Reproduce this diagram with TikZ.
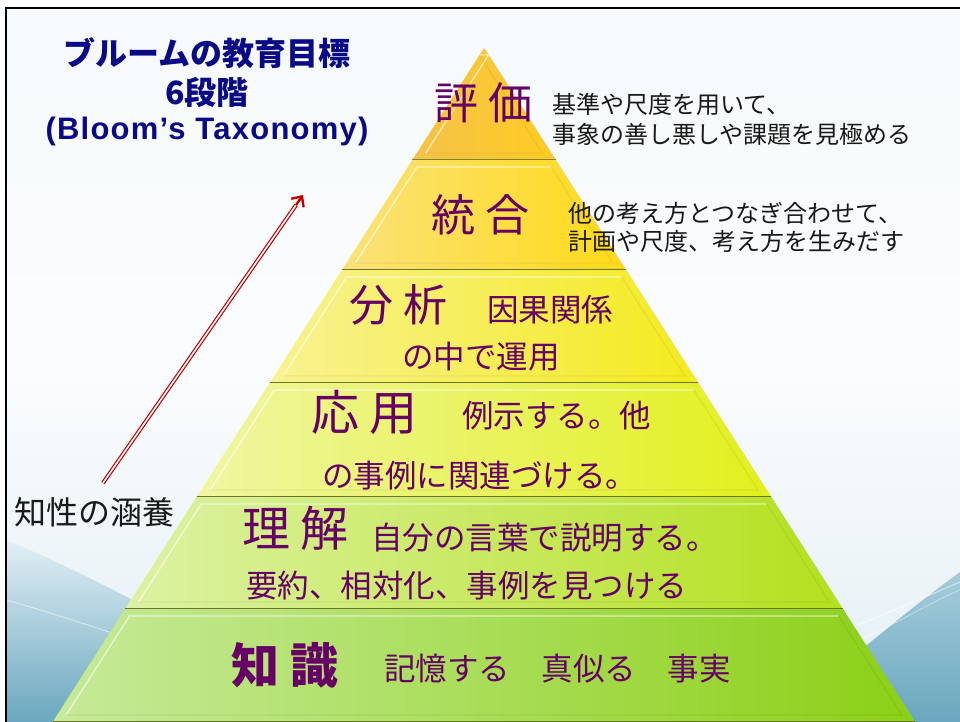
\documentclass[tikz,border=0pt]{standalone}
\usepackage{fontspec}
\newfontfamily\jp{Noto Sans CJK JP}
\newfontfamily\lat{Liberation Sans}[LetterSpace=4]
\usetikzlibrary{arrows.meta,calc}
\definecolor{navy}{HTML}{0A0A86}
\definecolor{purp}{HTML}{660066}
\definecolor{arrred}{HTML}{C00000}
\definecolor{bgtop}{HTML}{F6FAFC}
\definecolor{bgmid}{HTML}{FBFCFD}
\definecolor{bgbot}{HTML}{E3EFF5}
\definecolor{wave}{HTML}{6AA7BF}
\definecolor{wavelt}{HTML}{A6CCDB}
\definecolor{sepc}{HTML}{6E7428}
\definecolor{aL}{HTML}{F4C24A}\definecolor{aR}{HTML}{FFCC22}
\definecolor{bL}{HTML}{FAE27A}\definecolor{bR}{HTML}{FFDA18}
\definecolor{cL}{HTML}{F8F292}\definecolor{cR}{HTML}{F4EA1E}
\definecolor{dL}{HTML}{F0F6A2}\definecolor{dR}{HTML}{E2F01C}
\definecolor{eL}{HTML}{DDF2A4}\definecolor{eR}{HTML}{B4E01E}
\definecolor{fL}{HTML}{C6EA9A}\definecolor{fR}{HTML}{8CD016}
\begin{document}
\begin{tikzpicture}[x=1pt,y=-1pt,
  lbl/.style={inner sep=0pt, anchor=west, text=purp, font=\jp\fontsize{44}{48}\selectfont},
  desc/.style={inner sep=0pt, anchor=west, text=purp, font=\jp\fontsize{31.5}{34}\selectfont},
  side/.style={inner sep=0pt, anchor=west, text=black!90, font=\jp\fontsize{24}{27}\selectfont},
  ttl/.style={inner sep=0pt, text=navy},
  sepline/.style={draw=sepc, line width=1.3pt},
  bevhi/.style={draw=white, opacity=0.6, line width=1.4pt},
  bevlo/.style={draw=black, opacity=0.05, line width=1.4pt}]
\useasboundingbox (0,0) rectangle (960,722);
\fill[white] (0,0) rectangle (960,722);
% background
\shade[top color=bgtop, bottom color=bgmid] (6,8) rectangle (960,365);
\shade[top color=bgmid, bottom color=bgbot] (6,365) rectangle (960,722);
\shade[top color=bgbot, bottom color=wave] (6,540) .. controls (80,570) and (150,610) .. (230,650) -- (230,722) -- (6,722) -- cycle;
\draw[white, opacity=0.5, line width=1pt] (6,600) .. controls (50,612) and (90,626) .. (140,642);
\shade[top color=wavelt, bottom color=wave] (760,722) .. controls (820,690) and (880,630) .. (960,572) -- (960,722) -- cycle;
\draw[white, opacity=0.55, line width=1pt] (850,628) .. controls (890,612) and (930,595) .. (960,582);
\draw[white, opacity=0.4, line width=1pt] (860,640) .. controls (900,622) and (935,600) .. (960,590);
% frame
\draw[black, line width=2pt] (6,722) -- (6,8) -- (960,8);
% pyramid shadow
\fill[black, opacity=0.12] (486,50) -- (916,724) -- (52,724) -- cycle;
% layers
\foreach \ya/\yb/\cl/\cr/\nm in {48/160/aL/aR/L1, 160/270/bL/bR/L2, 270/383/cL/cR/L3, 383/497/dL/dR/L4, 497/609/eL/eR/L5, 609/722/fL/fR/L6}{
  \pgfmathsetmacro\xa{484-0.64*(\ya-48)}
  \pgfmathsetmacro\xb{484+0.64*(\ya-48)}
  \pgfmathsetmacro\xc{484+0.64*(\yb-48)}
  \pgfmathsetmacro\xd{484-0.64*(\yb-48)}
  \shade[left color=\cl, right color=\cr] (\xa,\ya) -- (\xb,\ya) -- (\xc,\yb) -- (\xd,\yb) -- cycle;
  \pgfmathsetmacro\yi{\ya+7}
  \pgfmathsetmacro\yj{\yb-7}
  \pgfmathsetmacro\xia{484-0.64*(\yi-48)+9}
  \pgfmathsetmacro\xib{484+0.64*(\yi-48)-9}
  \pgfmathsetmacro\xic{484+0.64*(\yj-48)-9}
  \pgfmathsetmacro\xid{484-0.64*(\yj-48)+9}
  \draw[bevhi] (\xid,\yj) -- (\xia,\yi) -- (\xib,\yi);
  \draw[bevlo] (\xib,\yi) -- (\xic,\yj) -- (\xid,\yj);
  \draw[sepline] (\xd,\yb) -- (\xc,\yb);
}
% title
\node[ttl, font=\jp\bfseries\fontsize{32}{36}\selectfont] (t1) at (207,53) {ブルームの教育目標};
\node[ttl, font=\jp\bfseries\fontsize{32}{36}\selectfont] (t2) at (207,92) {6段階};
\node[ttl, font=\lat\bfseries\fontsize{31}{34}\selectfont] (t3) at (207,131) {(Bloom’s Taxonomy)};
% arrow
\coordinate (arS) at (103,483);
\coordinate (arE) at (303,195);
\coordinate (arM) at ($(arS)!0.965!(arE)$);
\draw[arrred, line width=1.2pt, double=white, double distance=1.6pt] (arS) -- (arM);
\draw[arrred, line width=2.4pt, -{Straight Barb[length=8pt,width=15pt]}] (arM) -- (arE);
\node[inner sep=0pt, anchor=west, font=\jp\fontsize{32}{36}\selectfont, text=black!90] (kyo) at (14,512) {知性の涵養};
% layer texts
\node[lbl] (hyo) at (434,103) {評 価};
\node[side] (hyo1) at (552,104) {基準や尺度を用いて、};
\node[side] (hyo2) at (552,134) {事象の善し悪しや課題を見極める};
\node[lbl] (toh) at (431,215) {統 合};
\node[side] (toh1) at (568,213) {他の考え方とつなぎ合わせて、};
\node[side] (toh2) at (568,241) {計画や尺度、考え方を生みだす};
\node[lbl] (bun) at (349,305) {分 析};
\node[desc] (bun1) at (487,310) {因果関係};
\node[desc] (bun2) at (402,357) {の中で運用};
\node[lbl, font=\jp\fontsize{48}{52}\selectfont] (oyo) at (311,412) {応 用};
\node[desc] (oyo1) at (462,416) {例示する。他};
\node[desc] (oyo2) at (322,476) {の事例に関連づける。};
\node[lbl, font=\jp\fontsize{48}{52}\selectfont] (rik) at (242,528) {理 解};
\node[desc] (rik1) at (371,538) {自分の言葉で説明する。};
\node[desc] (rik2) at (246,586) {要約、相対化、事例を見つける};
\node[lbl, font=\jp\bfseries\fontsize{48}{52}\selectfont] (chi) at (231,665) {知 識};
\node[desc] (chi1) at (384,669) {記憶する　真似る　事実};
\end{tikzpicture}
\end{document}
